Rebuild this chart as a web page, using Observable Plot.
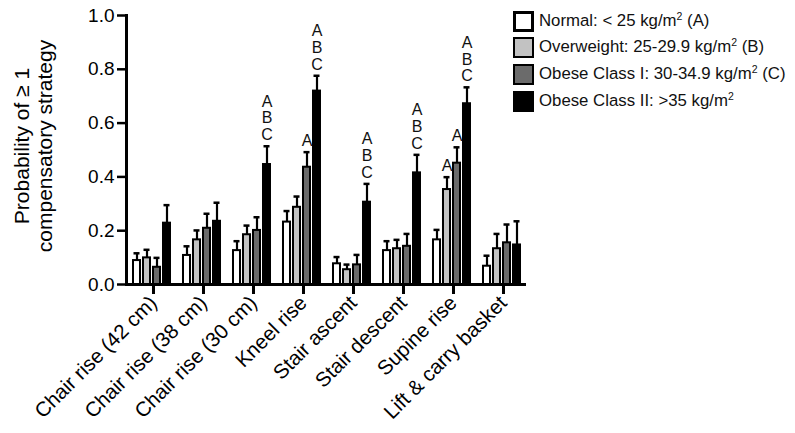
<!DOCTYPE html>
<html><head><meta charset="utf-8">
<script src="https://cdn.jsdelivr.net/npm/d3@7"></script>
<script src="https://cdn.jsdelivr.net/npm/@observablehq/plot@0.6"></script>
<style>
body{margin:0;background:#fff;font-family:"Liberation Sans",Arial,sans-serif;}
#wrap{position:relative;width:795px;height:433px;overflow:hidden;}
#legend{position:absolute;left:513px;top:8px;font-size:16.8px;color:#111;line-height:1;}
.row{display:flex;align-items:center;height:26.6px;white-space:nowrap;}
.sw{width:17px;height:17px;border:2.5px solid #000;margin-right:5px;flex:none;}
sup{font-size:10.5px;vertical-align:6px;line-height:0;}
</style></head><body><div id="wrap"></div>
<script>
const categories = ["Chair rise (42 cm)","Chair rise (38 cm)","Chair rise (30 cm)","Kneel rise","Stair ascent","Stair descent","Supine rise","Lift & carry basket"];
const series = ["Normal","Overweight","Obese Class I","Obese Class II"];
const legendLabels = ["Normal: < 25 kg/m<sup>2</sup> (A)","Overweight: 25-29.9 kg/m<sup>2</sup> (B)","Obese Class I: 30-34.9 kg/m<sup>2</sup> (C)","Obese Class II: >35 kg/m<sup>2</sup>"];
const fills = ["#ffffff","#c2c2c2","#6b6b6b","#000000"];

const normalVals      = [0.089,0.108,0.126,0.232,0.077,0.126,0.166,0.068];
const normalUpper     = [0.116,0.142,0.161,0.273,0.102,0.161,0.203,0.107];
const overweightVals  = [0.099,0.166,0.185,0.287,0.055,0.133,0.353,0.133];
const overweightUpper = [0.129,0.201,0.219,0.327,0.074,0.166,0.399,0.188];
const obese1Vals      = [0.064,0.209,0.201,0.436,0.073,0.142,0.451,0.155];
const obese1Upper     = [0.099,0.263,0.250,0.492,0.110,0.188,0.510,0.223];
const obese2Vals      = [0.228,0.235,0.446,0.719,0.306,0.415,0.672,0.147];
const obese2Upper     = [0.295,0.304,0.514,0.776,0.374,0.482,0.733,0.235];

const normalSig     = ["","","","","","","",""];
const overweightSig = ["","","","","","","A",""];
const obese1Sig     = ["","","","A","","","A",""];
const obese2Sig     = ["","","ABC","ABC","ABC","ABC","ABC",""];

const yTicks = [0,0.2,0.4,0.6,0.8,1.0];
const yLabel = "Probability of \u2265 1\ncompensatory strategy";

const vals = [normalVals, overweightVals, obese1Vals, obese2Vals];
const ups = [normalUpper, overweightUpper, obese1Upper, obese2Upper];
const sigs = [normalSig, overweightSig, obese1Sig, obese2Sig];

const data = [];
categories.forEach((c, i) => series.forEach((s, j) => {
  data.push({cat: c, series: s, value: vals[j][i], upper: ups[j][i], sig: sigs[j][i]});
}));

const font = "Liberation Sans, Arial, sans-serif";
const plot = Plot.plot({
  width: 795, height: 433,
  marginLeft: 124, marginRight: 267, marginTop: 15, marginBottom: 149,
  style: {fontFamily: font, background: "white", color: "black", overflow: "visible"},
  fx: {domain: categories, paddingInner: 0, paddingOuter: 0, label: null, axis: null},
  x: {domain: series, paddingInner: 0.3, paddingOuter: 0.5, axis: null},
  y: {domain: [0, 1], axis: null},
  color: {domain: series, range: fills},
  marks: [
    Plot.ruleX(data, {fx: "cat", x: "series", y1: "value", y2: "upper", strokeWidth: 2.2}),
    Plot.tickY(data, {fx: "cat", x: "series", y: "upper", strokeWidth: 2.5, insetLeft: 0.5, insetRight: 0.5}),
    Plot.barY(data, {fx: "cat", x: "series", y: "value", fill: "series", stroke: "black", strokeWidth: 2}),
    Plot.text(data.filter(d => d.sig), {fx: "cat", x: "series", y: "upper", text: d => d.sig.split("").join("\n"),
      lineAnchor: "bottom", dy: -6, fontSize: 16, lineHeight: 1.05, fill: "#111"}),
    Plot.ruleY([0], {strokeWidth: 3}),
    Plot.axisFx({anchor: "bottom", tickSize: 10, tickRotate: -45, fontSize: 20.5, tickPadding: 5, dx: 2, label: null, strokeWidth: 3}),
    Plot.axisY({ticks: yTicks, tickFormat: d3.format(".1f"), tickSize: 9, fontSize: 19, tickPadding: 3, label: null, strokeWidth: 2.5}),
    Plot.frame({anchor: "left", facetAnchor: "left", strokeWidth: 3}),
    Plot.text([yLabel], {frameAnchor: "left", facetAnchor: "left", rotate: -90, dx: -93, dy: -4,
      fontSize: 21, lineHeight: 1.1, textAnchor: "middle", fill: "black"})
  ]
});
const wrap = document.getElementById("wrap");
wrap.appendChild(plot);
const legend = document.createElement("div");
legend.id = "legend";
series.forEach((s, j) => {
  const row = document.createElement("div");
  row.className = "row";
  row.innerHTML = `<div class="sw" style="background:${fills[j]};${j===0?'border-width:3.5px;width:15px;height:15px;':''}"></div><span>${legendLabels[j]}</span>`;
  legend.appendChild(row);
});
wrap.appendChild(legend);
</script>
</body></html>
